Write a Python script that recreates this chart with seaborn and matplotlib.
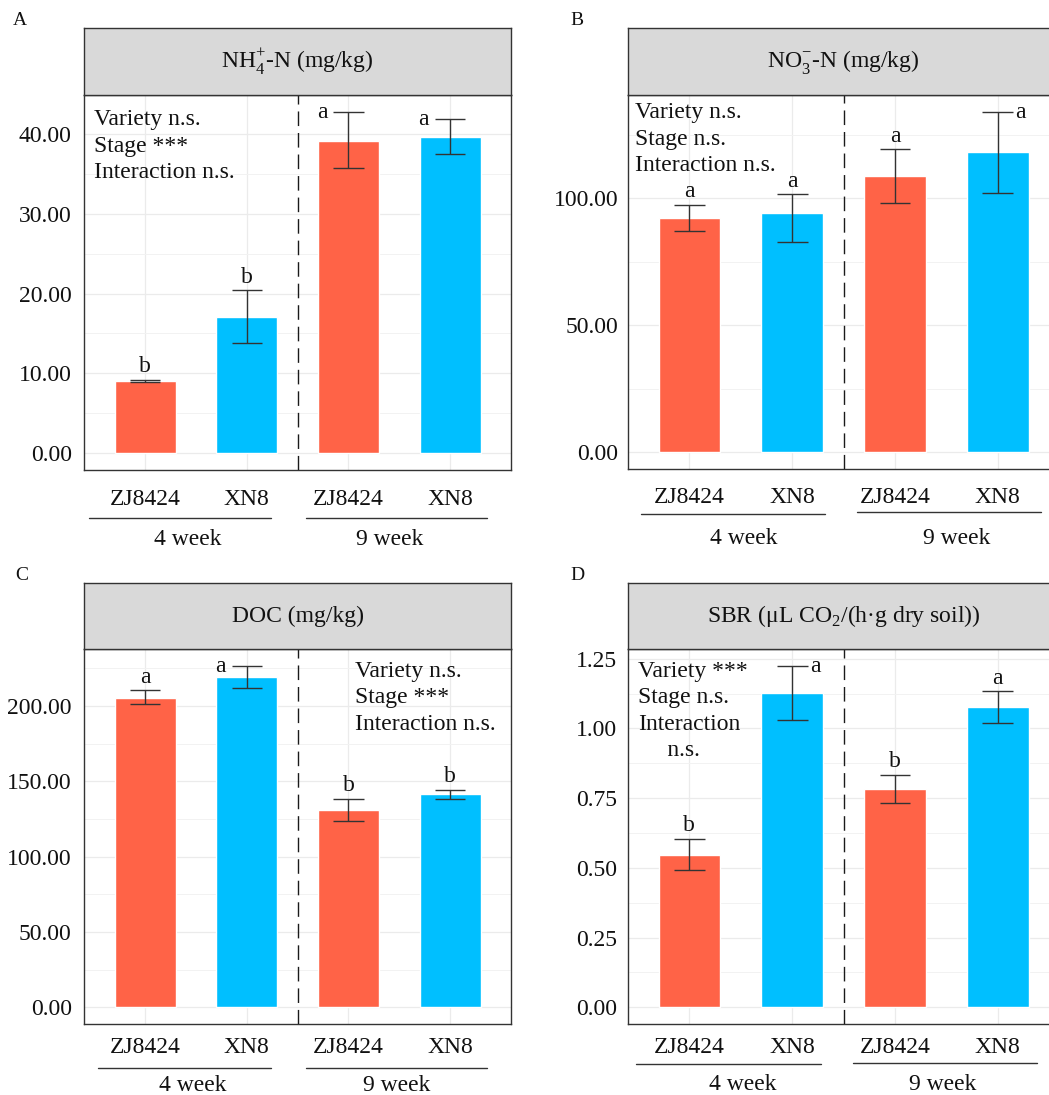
import numpy as np
import pandas as pd
import matplotlib
matplotlib.use("Agg")
import matplotlib.pyplot as plt
import matplotlib.transforms as mtransforms
from matplotlib.ticker import MultipleLocator, FormatStrFormatter
import seaborn as sns

# ---- data -------------------------------------------------------------
varieties = ["ZJ8424", "XN8", "ZJ8424", "XN8"]
stages = ["4 week", "4 week", "9 week", "9 week"]
stage_names = ["4 week", "9 week"]

nh4_mean = [9.05, 17.07, 39.20, 39.68]
nh4_low = [8.95, 13.75, 35.75, 37.50]
nh4_high = [9.15, 20.39, 42.77, 41.85]
nh4_letters = ["b", "b", "a", "a"]

no3_mean = [92.1, 94.4, 108.7, 118.1]
no3_low = [87.1, 82.8, 98.0, 102.2]
no3_high = [97.4, 101.6, 119.3, 134.0]
no3_letters = ["a", "a", "a", "a"]

doc_mean = [205.5, 219.3, 131.1, 141.3]
doc_low = [201.1, 212.0, 123.8, 138.0]
doc_high = [210.4, 226.6, 138.2, 144.6]
doc_letters = ["a", "a", "b", "b"]

sbr_mean = [0.547, 1.126, 0.782, 1.077]
sbr_low = [0.492, 1.031, 0.732, 1.020]
sbr_high = [0.603, 1.224, 0.834, 1.133]
sbr_letters = ["b", "a", "b", "a"]

titles = [
    "NH$_\\mathregular{4}^\\mathregular{+}$-N (mg/kg)",
    "NO$_\\mathregular{3}^\\mathregular{\u2212}$-N (mg/kg)",
    "DOC (mg/kg)",
    "SBR (\u03bcL CO$_\\mathregular{2}$/(h\u00b7g dry soil))",
]
stats_text = [
    "Variety n.s.\nStage ***\nInteraction n.s.",
    "Variety n.s.\nStage n.s.\nInteraction n.s.",
    "Variety n.s.\nStage ***\nInteraction n.s.",
    "Variety ***\nStage n.s.\nInteraction\n     n.s.",
]
panel_tags = ["A", "B", "C", "D"]
y_steps = [10, 50, 50, 0.25]

palette = {"ZJ8424": "#FF6347", "XN8": "#00BFFF"}

# ---- layout (pixels on a 1049 x 1095 canvas) --------------------------
W, H = 1049, 1095
layout = [
    dict(l=84.3, r=511.0, top=95.0, bot=470.0, strip=28.0, xdir="out", xpad=7.0, ypad=9.0,
         tag=(13, 25), txt_x=-0.5, txt_y=0.962, ha="left",
         sides=["top", "top", "left", "left"],
         lines=[(-0.55, 1.24, 48), (1.58, 3.36, 48)], labels=[(0.42, 67), (2.41, 67)]),
    dict(l=627.7, r=1059.5, top=95.0, bot=469.3, strip=28.0, xdir="in", xpad=12.7, ypad=6.8,
         tag=(570, 25), txt_x=-0.53, txt_y=0.98, ha="left",
         sides=["top", "top", "top", "right"],
         lines=[(-0.47, 1.32, 45), (1.63, 3.42, 42.5)], labels=[(0.53, 67.4), (2.6, 67.4)]),
    dict(l=84.3, r=511.0, top=649.0, bot=1024.3, strip=583.3, xdir="in", xpad=9.1, ypad=9.0,
         tag=(15, 580), txt_x=2.06, txt_y=0.968, ha="left",
         sides=["top", "left", "top", "top"],
         lines=[(-0.47, 1.24, 43.4), (1.58, 3.36, 43.4)], labels=[(0.47, 58.7), (2.47, 58.7)]),
    dict(l=627.7, r=1059.5, top=649.0, bot=1024.3, strip=583.3, xdir="in", xpad=9.1, ypad=7.7,
         tag=(570, 580), txt_x=-0.5, txt_y=0.968, ha="left",
         sides=["top", "right", "top", "top"],
         lines=[(-0.52, 1.28, 39.7), (1.59, 3.38, 38.7)], labels=[(0.52, 58.0), (2.46, 58.0)]),
]

sns.set_theme(style="white")
plt.rcParams["font.family"] = ["Liberation Serif", "DejaVu Serif"]
plt.rcParams["mathtext.fontset"] = "custom"
plt.rcParams["mathtext.rm"] = "Liberation Serif"
plt.rcParams["axes.unicode_minus"] = False

FS = 17
INK = "#111111"
EDGE = "#333333"

fig = plt.figure(figsize=(W / 100, H / 100), dpi=100)

series = [
    (nh4_mean, nh4_low, nh4_high, nh4_letters),
    (no3_mean, no3_low, no3_high, no3_letters),
    (doc_mean, doc_low, doc_high, doc_letters),
    (sbr_mean, sbr_low, sbr_high, sbr_letters),
]

for i, ((mean, low, high, letters), lay) in enumerate(zip(series, layout)):
    left = lay["l"] / W
    width = (lay["r"] - lay["l"]) / W
    bottom = 1 - lay["bot"] / H
    height = (lay["bot"] - lay["top"]) / H
    ax = fig.add_axes([left, bottom, width, height])

    df = pd.DataFrame({
        "group": [f"{v} {s}" for v, s in zip(varieties, stages)],
        "variety": varieties,
        "mean": mean,
        "low": low,
        "high": high,
    })
    sns.barplot(data=df, x="group", y="mean", hue="variety", palette=palette,
                width=0.6, errorbar=None, dodge=False, legend=False,
                saturation=1, ax=ax, zorder=2)

    xpos = np.arange(len(df))
    ax.vlines(xpos, df["low"], df["high"], color=EDGE, lw=1.0, zorder=3)
    ax.hlines(df["low"], xpos - 0.15, xpos + 0.15, color=EDGE, lw=1.0, zorder=3)
    ax.hlines(df["high"], xpos - 0.15, xpos + 0.15, color=EDGE, lw=1.0, zorder=3)

    ymax = df["high"].max()
    ax.set_ylim(-0.05 * ymax, 1.05 * ymax)
    ax.set_xlim(-0.6, 3.6)
    ax.set_xlabel("")
    ax.set_ylabel("")

    step = y_steps[i]
    ax.yaxis.set_major_locator(MultipleLocator(step))
    ax.yaxis.set_minor_locator(MultipleLocator(step / 2))
    ax.yaxis.set_major_formatter(FormatStrFormatter("%.2f"))
    ax.set_xticks(xpos)
    ax.set_xticklabels(varieties)

    ax.set_axisbelow(True)
    ax.xaxis.grid(True, which="major", color="#EBEBEB", lw=0.9)
    ax.yaxis.grid(True, which="major", color="#EBEBEB", lw=0.9)
    ax.yaxis.grid(True, which="minor", color="#F2F2F2", lw=0.7)

    ax.tick_params(axis="x", which="major", direction=lay["xdir"], length=6.5, width=0.8,
                   color=EDGE, pad=lay["xpad"], labelsize=FS, labelcolor=INK)
    ax.tick_params(axis="y", which="major", direction="in", length=6.5, width=0.8,
                   color=EDGE, pad=lay["ypad"], labelsize=FS, labelcolor=INK)
    ax.tick_params(which="minor", length=0)
    for sp in ax.spines.values():
        sp.set_color(EDGE)
        sp.set_linewidth(1.0)

    ax.axvline(1.5, color="#1a1a1a", lw=1.0, ls=(0, (10.5, 5.0)), zorder=3)

    # significance letters
    for x, hi, let, side in zip(xpos, df["high"], letters, lay["sides"]):
        if side == "top":
            ax.annotate(let, xy=(x, hi), xytext=(0, 2.0), textcoords="offset points",
                        ha="center", va="bottom", fontsize=FS, color=INK, zorder=4)
        elif side == "left":
            ax.annotate(let, xy=(x - 0.15, hi), xytext=(-4.3, -4.0), textcoords="offset points",
                        ha="right", va="baseline", fontsize=FS, color=INK, zorder=4)
        else:
            ax.annotate(let, xy=(x + 0.15, hi), xytext=(1.5, -4.0), textcoords="offset points",
                        ha="left", va="baseline", fontsize=FS, color=INK, zorder=4)

    # two-way ANOVA summary
    ax.text(lay["txt_x"], lay["txt_y"], stats_text[i],
            transform=ax.get_xaxis_transform(), ha=lay["ha"], va="top",
            fontsize=FS, color=INK, linespacing=1.34, zorder=4)

    # stage brackets under the variety labels
    base = ax.get_xaxis_transform()
    for (x0, x1, dy) in lay["lines"]:
        tr = mtransforms.offset_copy(base, fig=fig, x=0, y=-dy * 0.72, units="points")
        ax.plot([x0, x1], [0, 0], transform=tr, color=EDGE, lw=1.0, clip_on=False)
    for name, (xt, dy) in zip(stage_names, lay["labels"]):
        tr = mtransforms.offset_copy(base, fig=fig, x=0, y=-(dy + 7.7) * 0.72, units="points")
        ax.text(xt, 0, name, transform=tr, ha="center", va="baseline",
                fontsize=FS, color=INK, clip_on=False)

    # facet strip
    sax = fig.add_axes([left, 1 - lay["top"] / H, width, (lay["top"] - lay["strip"]) / H])
    sax.set_facecolor("#D9D9D9")
    sax.set_xticks([])
    sax.set_yticks([])
    for sp in sax.spines.values():
        sp.set_color(EDGE)
        sp.set_linewidth(1.0)
    sax.text(0.5, 0.5, titles[i], transform=sax.transAxes, ha="center", va="center",
             fontsize=FS, color=INK)

    # panel tag
    tx, ty = lay["tag"]
    fig.text(tx / W, 1 - ty / H, panel_tags[i], ha="left", va="baseline",
             fontsize=14, color=INK)

fig.savefig("out.png", dpi=100)
